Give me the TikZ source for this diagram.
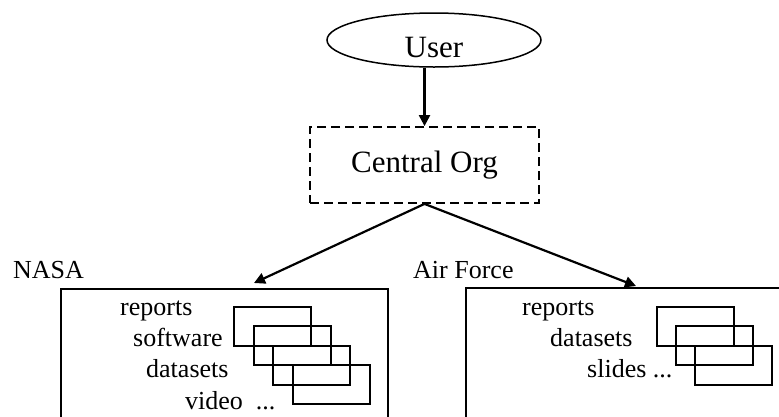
\documentclass[tikz,border=0pt]{standalone}
\usepackage{fontspec}
\setmainfont{Liberation Serif}
\usetikzlibrary{shapes,arrows.meta,positioning}

\begin{document}
\begin{tikzpicture}[x=1pt, y=-1pt]
    \tikzstyle{actor} = [ellipse, draw, line width=1.5pt, minimum width=214pt, minimum height=54pt, inner sep=0pt, text height=34pt, text depth=0pt, font=\fontsize{31}{36}\selectfont]
    \tikzstyle{hub} = [rectangle, draw, dash pattern=on 9pt off 5pt, line width=1.8pt, minimum width=229pt, minimum height=76pt, font=\fontsize{31}{36}\selectfont]
    \tikzstyle{site} = [rectangle, draw, line width=1.5pt, minimum height=172pt, anchor=north west, inner sep=0pt]
    \tikzstyle{sitename} = [anchor=base west, inner sep=0pt, font=\fontsize{26}{30}\selectfont]
    \tikzstyle{item} = [anchor=base west, inner sep=0pt, font=\fontsize{26}{30}\selectfont]
    \tikzstyle{doc} = [rectangle, draw, line width=2pt, minimum width=77pt, minimum height=39pt, anchor=north west, inner sep=0pt]
    \tikzstyle{arrow} = [line width=2.2pt, -{Triangle[length=11pt, width=11pt]}]

    \useasboundingbox (0,0) rectangle (779,416);
    \clip (0,0) rectangle (779,416);

    % User and central organisation
    \node [actor] (user) at (434,40) {User};
    \node [hub] (central) at (424.5,165) {Central Org};

    % NASA
    \node [site, minimum width=327pt] (nasa) at (60,288) {};
    \node [sitename] (nasaname) at (13,278) {NASA};
    \node [item] (nasarep) at (120,315) {reports};
    \node [item] (nasasoft) at (133,346) {software};
    \node [item] (nasadata) at (146,377) {datasets};
    \node [item] (nasavid) at (185,409) {video~ ...};
    \node [doc] (nasadoc1) at (233,306) {};
    \node [doc] (nasadoc2) at (252.5,325) {};
    \node [doc] (nasadoc3) at (272,345) {};
    \node [doc] (nasadoc4) at (291.5,364) {};

    % Air Force
    \node [site, minimum width=340pt] (af) at (465,287) {};
    \node [sitename] (afname) at (413,278) {Air Force};
    \node [item] (afrep) at (522,315) {reports};
    \node [item] (afdata) at (550,346) {datasets};
    \node [item] (afslides) at (587,377) {slides ...};
    \node [doc] (afdoc1) at (656,306) {};
    \node [doc] (afdoc2) at (675,325) {};
    \node [doc] (afdoc3) at (694,345) {};

    % Arrows
    \coordinate (nasatip) at (254,283);
    \coordinate (aftip) at (636,286);
    \draw [arrow] (user.south -| central.north) -- (central.north);
    \draw [arrow] (central.south) -- (nasatip);
    \draw [arrow] (central.south) -- (aftip);
\end{tikzpicture}
\end{document}
